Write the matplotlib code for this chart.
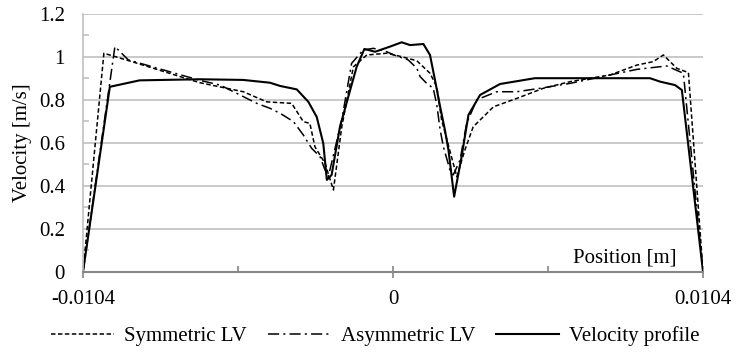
import matplotlib
matplotlib.use("Agg")
import matplotlib.pyplot as plt
from matplotlib.ticker import FixedLocator

plt.rcParams['font.family'] = ['Liberation Serif', 'DejaVu Serif']
plt.rcParams['lines.scale_dashes'] = False

# Symmetric LV (dashed)
sym_x = [-0.0104, -0.00970, -0.00883, -0.00648, -0.00502, -0.00424, -0.00340, -0.00301,
         -0.00279, -0.00262, -0.00228, -0.00200, -0.00172, -0.00133, -0.00088, -0.00021,
         0.00029, 0.00080, 0.00124, 0.00147, 0.00163, 0.00214, 0.00241, 0.00269,
         0.00337, 0.00415, 0.00504, 0.00594, 0.00728, 0.00818, 0.00873, 0.00907,
         0.00952, 0.00991, 0.0104]
sym_v = [0, 1.016, 0.980, 0.879, 0.837, 0.790, 0.783, 0.698,
         0.690, 0.581, 0.504, 0.380, 0.674, 0.953, 1.008, 1.016,
         1.000, 0.981, 0.923, 0.860, 0.706, 0.442, 0.566, 0.674,
         0.767, 0.806, 0.853, 0.884, 0.915, 0.961, 0.977, 1.008,
         0.946, 0.926, 0]

# Asymmetric LV (dash-dot)
asym_x = [-0.0104, -0.00933, -0.00888, -0.00648, -0.00580, -0.00502, -0.00457, -0.00413,
          -0.00379, -0.00334, -0.00301, -0.00273, -0.00245, -0.00228, -0.00217, -0.00172,
          -0.00139, -0.00100, -0.00066, -0.00021, 0.00012, 0.00051, 0.00080, 0.00091,
          0.00113, 0.00135, 0.00147, 0.00158, 0.00169, 0.00191, 0.00202, 0.00225,
          0.00247, 0.00281, 0.00348, 0.00415, 0.00493, 0.00594, 0.00728, 0.00818,
          0.00918, 0.00974, 0.0104]
asym_v = [0, 1.047, 0.985, 0.890, 0.868, 0.814, 0.783, 0.760,
          0.737, 0.698, 0.636, 0.574, 0.535, 0.473, 0.442, 0.706,
          0.969, 1.031, 1.039, 1.023, 1.003, 0.985, 0.946, 0.907,
          0.876, 0.853, 0.775, 0.660, 0.581, 0.473, 0.450, 0.520,
          0.690, 0.800, 0.837, 0.837, 0.853, 0.876, 0.915, 0.941,
          0.957, 0.923, 0]

# Velocity profile (solid)
prof_x = [-0.0104, -0.00950, -0.00850, -0.00648, -0.00503, -0.00413, -0.00379, -0.00323,
          -0.00284, -0.00256, -0.00234, -0.00222, -0.00206, -0.00178, -0.00150, -0.00122,
          -0.00096, -0.00060, -0.00010, 0.00029, 0.00057, 0.00102, 0.00124, 0.00141,
          0.00158, 0.00174, 0.00186, 0.00205, 0.00230, 0.00253, 0.00292, 0.00359,
          0.00476, 0.00862, 0.00896, 0.00946, 0.00969, 0.0104]
prof_v = [0, 0.860, 0.890, 0.895, 0.892, 0.879, 0.864, 0.848,
          0.790, 0.720, 0.597, 0.427, 0.450, 0.674, 0.814, 0.953,
          1.036, 1.023, 1.047, 1.067, 1.054, 1.059, 1.008, 0.890,
          0.767, 0.660, 0.566, 0.349, 0.535, 0.729, 0.822, 0.873,
          0.900, 0.900, 0.884, 0.868, 0.845, 0]

x_ticks = [-0.0104, 0, 0.0104]
x_labels = ['-0.0104', '0', '0.0104']
y_ticks = [0, 0.2, 0.4, 0.6, 0.8, 1.0, 1.2]
y_labels = ['0', '0.2', '0.4', '0.6', '0.8', '1', '1.2']

fs = 15

fig = plt.figure(figsize=(7.36, 3.53), dpi=100)
ax = fig.add_axes([0.1128, 0.2303, 0.8424, 0.7309])

ax.plot(sym_x, sym_v, color='black', lw=1.1, dashes=(3.2, 1.8), label='Symmetric LV')
ax.plot(asym_x, asym_v, color='black', lw=1.1, dashes=(8, 3, 1.5, 3), label='Asymmetric LV')
ax.plot(prof_x, prof_v, color='black', lw=1.5, label='Velocity profile')

ax.set_xlim(-0.0104, 0.0104)
ax.set_ylim(0, 1.2)
ax.set_xticks(x_ticks)
ax.set_xticklabels(x_labels, fontsize=fs)
ax.set_yticks(y_ticks)
ax.set_yticklabels(y_labels, fontsize=fs)
ax.xaxis.set_minor_locator(FixedLocator([-0.0052, 0.0052]))
ax.yaxis.set_minor_locator(FixedLocator([0.1, 0.3, 0.5, 0.7, 0.9, 1.1]))

ax.grid(axis='y', color='#c0c0c0', lw=1.2)
ax.set_axisbelow(True)
for s in ['top', 'right']:
    ax.spines[s].set_visible(False)
ax.spines['bottom'].set_color('#868686')
ax.spines['bottom'].set_linewidth(1.5)
ax.spines['left'].set_color('#c0c0c0')
ax.spines['left'].set_linewidth(1.2)

ax.tick_params(axis='x', which='major', direction='inout', length=8, color='#868686', width=1.2, pad=9)
ax.tick_params(axis='x', which='minor', direction='in', length=4, color='#868686', width=1.2)
ax.tick_params(axis='y', which='major', length=0, pad=13)
ax.tick_params(axis='y', which='minor', direction='in', length=4, color='#c0c0c0', width=1.2)

ax.set_ylabel('Velocity [m/s]', fontsize=fs, labelpad=5)
ax.text(0.958, 0.053, 'Position [m]', transform=ax.transAxes, ha='right', va='center', fontsize=fs)

fig.legend(loc='center', bbox_to_anchor=(0.51, 0.047), ncol=3, frameon=False,
           fontsize=fs, handlelength=3.0, handletextpad=0.5, columnspacing=1.0)

fig.savefig('out.png', dpi=100)
plt.close(fig)
